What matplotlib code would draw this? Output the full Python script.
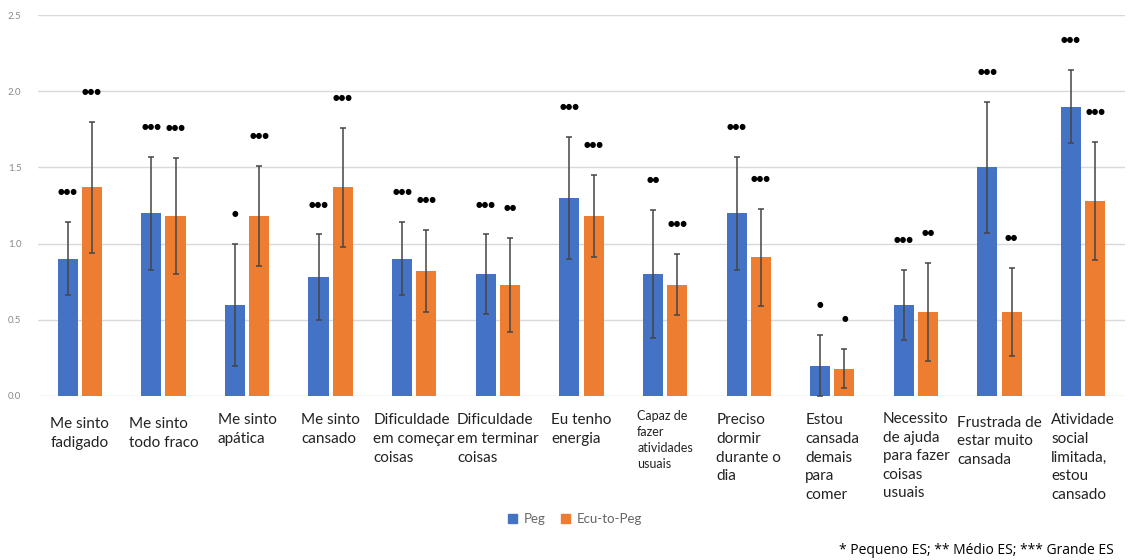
import numpy as np
import matplotlib.pyplot as plt
from matplotlib.patches import Patch

categories = [
    "Me sinto\nfadigado", "Me sinto\ntodo fraco", "Me sinto\napática", "Me sinto\ncansado",
    "Dificuldade\nem começar\ncoisas", "Dificuldade\nem terminar\ncoisas", "Eu tenho\nenergia",
    "Capaz de\nfazer\natividades\nusuais", "Preciso\ndormir\ndurante o\ndia",
    "Estou\ncansada\ndemais\npara\ncomer", "Necessito\nde ajuda\npara fazer\ncoisas\nusuais",
    "Frustrada de\nestar muito\ncansada", "Atividade\nsocial\nlimitada,\nestou\ncansado",
]
peg = [0.90, 1.20, 0.60, 0.78, 0.90, 0.80, 1.30, 0.80, 1.20, 0.20, 0.60, 1.50, 1.90]
peg_err = [0.24, 0.37, 0.40, 0.28, 0.24, 0.26, 0.40, 0.42, 0.37, 0.20, 0.23, 0.43, 0.24]
ecu = [1.37, 1.18, 1.18, 1.37, 0.82, 0.73, 1.18, 0.73, 0.91, 0.18, 0.55, 0.55, 1.28]
ecu_err = [0.43, 0.38, 0.33, 0.39, 0.27, 0.31, 0.27, 0.20, 0.32, 0.13, 0.32, 0.29, 0.39]
peg_sig = ["***", "***", "*", "***", "***", "***", "***", "**", "***", "*", "***", "***", "***"]
ecu_sig = ["***", "***", "***", "***", "***", "**", "***", "***", "***", "*", "**", "**", "***"]

BLUE = "#4472C4"
ORANGE = "#ED7D31"

plt.rcParams['font.family'] = ['Lato', 'DejaVu Sans']

fig = plt.figure(figsize=(11.34, 5.6), dpi=100)
ax = fig.add_axes([0.0335, 0.2929, 0.9585, 0.6801])

x = np.arange(len(categories))
w = 0.24
off = 0.145

ekw = dict(ecolor="#454545", elinewidth=1.1, capsize=2, capthick=1.1)
ax.bar(x - off, peg, w, color=BLUE, yerr=peg_err, error_kw=ekw, zorder=3)
ax.bar(x + off, ecu, w, color=ORANGE, yerr=ecu_err, error_kw=ekw, zorder=3)

# significance markers drawn as dots above each error bar
for i in range(len(categories)):
    for xc, v, e, s in ((x[i] - off, peg[i], peg_err[i], peg_sig[i]),
                        (x[i] + off, ecu[i], ecu_err[i], ecu_sig[i])):
        ax.text(xc, v + e + 0.2, "●" * len(s), ha="center", va="center",
                fontsize=5.5, color="black", family="DejaVu Sans", zorder=4)

ax.set_xlim(-0.5, len(categories) - 0.5)
ax.set_ylim(0, 2.5)
ax.set_yticks(np.arange(0, 2.51, 0.5))
ax.set_yticklabels([f"{t:.1f}" for t in np.arange(0, 2.51, 0.5)])
ax.tick_params(axis="y", length=0, labelsize=7, labelcolor="#8a8a8a", pad=12)
ax.tick_params(axis="x", length=0)
ax.set_xticks([])
ax.grid(axis="y", color="#d9d9d9", linewidth=1, zorder=0)
for sp in ax.spines.values():
    sp.set_visible(False)

# category labels under the bars
label_drop = [0.12, 0.12, 0.095, 0.095, 0.095, 0.095, 0.095, 0.07, 0.095, 0.095, 0.085, 0.11, 0.095]
for i, lab in enumerate(categories):
    size = 9 if lab.startswith("Capaz") else 11
    ax.text(x[i], -0.02 - label_drop[i], lab, ha="center", va="top",
            multialignment="left", fontsize=size, linespacing=1.42,
            color="#222222", clip_on=False)

handles = [Patch(color=BLUE, label="Peg"), Patch(color=ORANGE, label="Ecu-to-Peg")]
fig.legend(handles=handles, loc="center", bbox_to_anchor=(0.507, 0.073), ncol=2,
           frameon=False, fontsize=9.5, labelcolor="#666666", handlelength=0.7,
           handleheight=0.7, handletextpad=0.5, columnspacing=1.2)

fig.text(0.982, 0.004, "* Pequeno ES; ** Médio ES; *** Grande ES", ha="right",
         va="bottom", fontsize=10, color="black", family=["Open Sans", "DejaVu Sans"])

fig.savefig("out.png", dpi=100)
